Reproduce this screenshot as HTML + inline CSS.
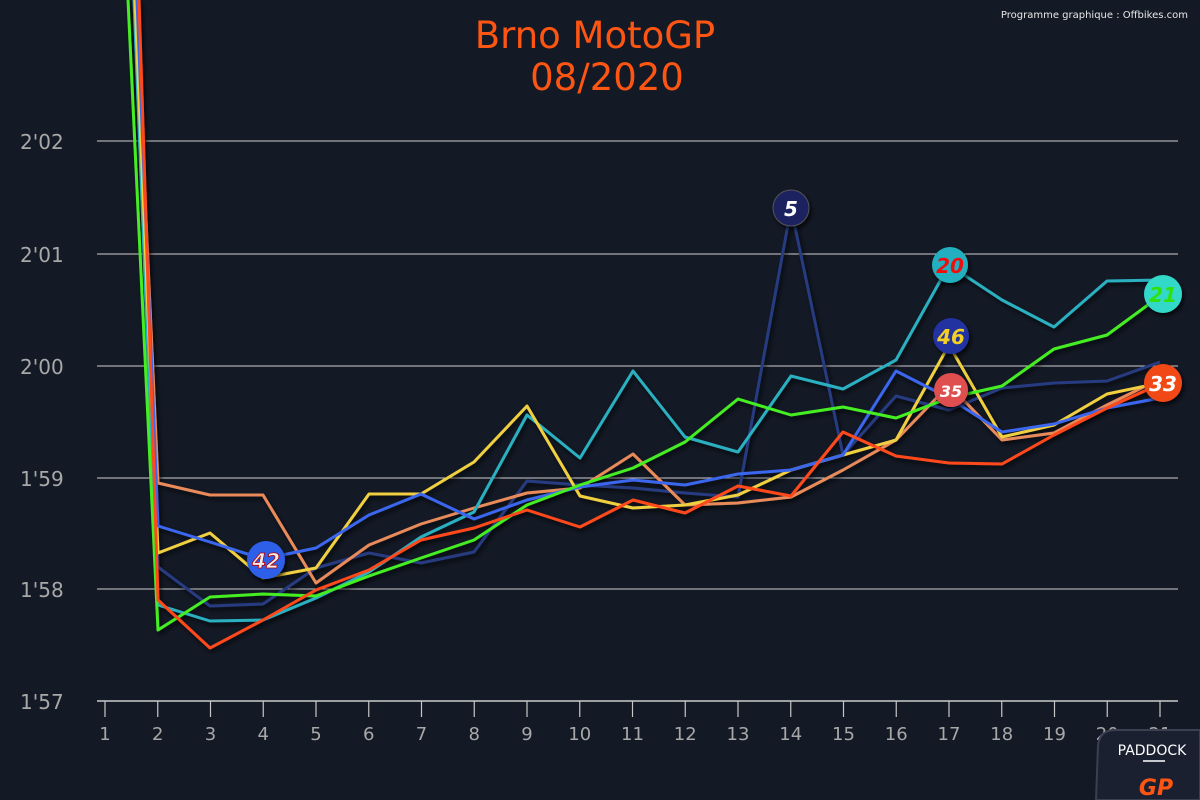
<!DOCTYPE html>
<html><head><meta charset="utf-8"><style>
html,body{margin:0;padding:0;background:#131925;}
svg{display:block;font-family:"DejaVu Sans","Liberation Sans",sans-serif;}
</style></head><body>
<svg width="1200" height="800" viewBox="0 0 1200 800" xmlns="http://www.w3.org/2000/svg">
<defs>
<filter id="sh" x="-5%" y="-5%" width="110%" height="110%"><feDropShadow dx="2" dy="3" stdDeviation="2" flood-color="#000" flood-opacity="0.7"/></filter>
</defs>
<rect width="1200" height="800" fill="#131925"/>
<text x="1188" y="18" fill="#e8e8e8" font-size="10" text-anchor="end">Programme graphique : Offbikes.com</text>
<text x="595" y="48" fill="#ff5512" font-size="37" text-anchor="middle">Brno MotoGP</text>
<text x="607" y="90" fill="#ff5512" font-size="37" text-anchor="middle">08/2020</text>
<g stroke="#d0d0d0" stroke-width="1">
<line x1="97" y1="141" x2="1178" y2="141"/><line x1="97" y1="254" x2="1178" y2="254"/>
<line x1="97" y1="366" x2="1178" y2="366"/><line x1="97" y1="478" x2="1178" y2="478"/>
<line x1="97" y1="589" x2="1178" y2="589"/><line x1="97" y1="701" x2="1178" y2="701" stroke="#ccc" stroke-width="1.5"/>
</g>
<g fill="#a8a8a8" font-size="20">
<text x="20" y="149">2'02</text><text x="20" y="262">2'01</text><text x="20" y="374">2'00</text>
<text x="20" y="486">1'59</text><text x="20" y="597">1'58</text><text x="20" y="709">1'57</text>
</g>
<g stroke="#c8c8c8" stroke-width="1.2" id="ticks"></g>
<g fill="#a8a8a8" font-size="18" text-anchor="middle" id="xl"></g>
<g fill="none" stroke-width="3" stroke-linejoin="round" filter="url(#sh)">
<polyline stroke="#283a80" points="138,0 158,567 210,606 263,604 316,568 369,553 421,563 474,552 527,481 580,485 633,488 685,493 738,497 791,208 843,455 896,396 949,410 1002,388 1054,383 1107,381 1160,362"/>
<polyline stroke="#e88a5a" points="136,0 158,483 210,495 263,495 316,583 369,545 421,524 474,508 527,493 580,488 633,454 685,505 738,503 791,497 843,470 896,440 949,385 1002,440 1054,433 1107,405 1160,379"/>
<polyline stroke="#2ab0c0" points="134,0 158,605 210,621 263,620 316,598 369,572 421,537 474,512 527,415 580,458 633,371 685,437 738,452 791,376 843,389 896,360 949,265 1002,300 1054,327 1107,281 1160,280"/>
<polyline stroke="#f0d040" points="135,0 158,553 210,533 263,578 316,568 369,494 421,494 474,462 527,406 580,496 633,508 685,505 738,495 791,470 843,455 896,440 949,345 1002,437 1054,425 1107,394 1160,383"/>
<polyline stroke="#3a66ee" points="137,0 158,526 210,542 263,559 316,548 369,515 421,494 474,519 527,500 580,487 633,480 685,485 738,474 791,470 843,455 896,371 949,398 1002,432 1054,424 1107,408 1160,398"/>
<polyline stroke="#44ee22" points="128,0 158,630 210,597 263,594 316,596 369,576 421,558 474,540 527,505 580,485 633,468 685,442 738,399 791,415 843,407 896,418 949,398 1002,386 1054,349 1107,335 1160,296"/>
<polyline stroke="#ff4a1a" points="139,0 158,600 210,648 263,620 316,590 369,570 421,540 474,528 527,510 580,527 633,500 685,513 738,486 791,496 843,432 896,456 949,463 1002,464 1054,435 1107,408 1160,384"/>
</g>
<g font-weight="bold" font-style="italic" text-anchor="middle" font-size="20" filter="url(#sh)">
<circle cx="266" cy="560" r="19" fill="#2f5ee8"/><text x="266" y="568" fill="#eee" stroke="#b00" stroke-width="0.8">42</text>
<circle cx="791" cy="208" r="18" fill="#1c2260" stroke="#555" /><text x="791" y="216" fill="#fff">5</text>
<circle cx="950" cy="265" r="18" fill="#20b0c0"/><text x="950" y="273" fill="#f01010">20</text>
<circle cx="951" cy="336" r="18" fill="#2332a0"/><text x="951" y="344" fill="#f5d020">46</text>
<circle cx="951" cy="390" r="17" fill="#e05050"/><text x="951" y="397" fill="#fff" font-size="16">35</text>
<circle cx="1163" cy="294" r="19" fill="#30d8c8"/><text x="1163" y="302" fill="#30e010">21</text>
<circle cx="1163" cy="383" r="19" fill="#f04a18"/><text x="1163" y="391" fill="#fff">33</text>
</g>
<path d="M1096,800 L1098,745 Q1100,730 1115,730 L1200,730 L1200,800 Z" fill="#1a2030" stroke="#3a4050" stroke-width="2"/>
<text x="1152" y="755" fill="#fff" font-size="14" text-anchor="middle">PADDOCK</text>
<line x1="1143" y1="761" x2="1165" y2="761" stroke="#fff" stroke-width="1.5"/>
<text x="1156" y="795" fill="#ff5512" font-size="22" font-weight="bold" font-style="italic" text-anchor="middle">GP</text>
<script>
var t=document.getElementById('ticks'),l=document.getElementById('xl'),ns="http://www.w3.org/2000/svg";
for(var i=1;i<=21;i++){var x=105+(i-1)*52.75;var ln=document.createElementNS(ns,'line');ln.setAttribute('x1',x);ln.setAttribute('x2',x);ln.setAttribute('y1',701);ln.setAttribute('y2',717);t.appendChild(ln);
var tx=document.createElementNS(ns,'text');tx.setAttribute('x',x);tx.setAttribute('y',740);tx.textContent=i;l.appendChild(tx);}
</script>
</svg>
</body></html>
